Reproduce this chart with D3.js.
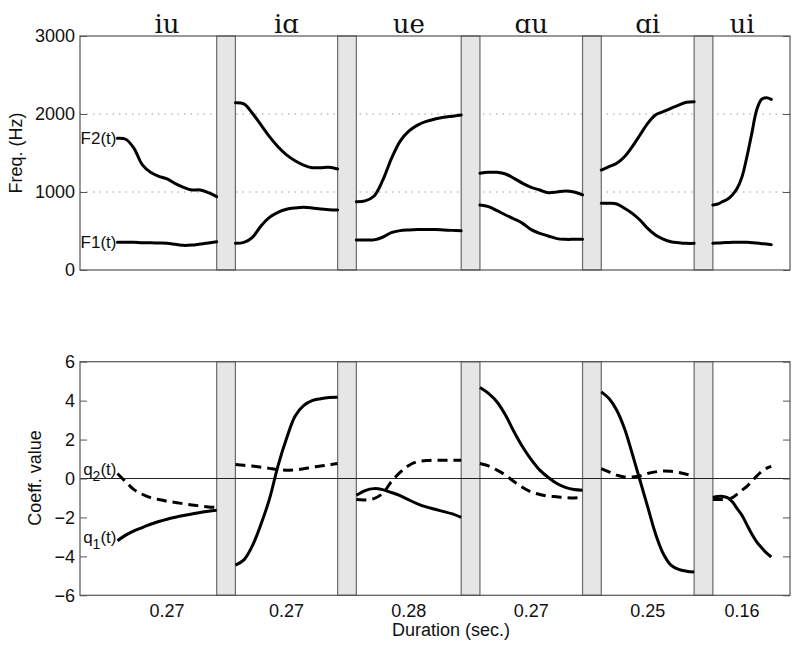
<!DOCTYPE html>
<html><head><meta charset="utf-8">
<script src="https://cdn.jsdelivr.net/npm/d3@7"></script>
<style>body{margin:0;background:#fff}</style>
</head><body>
<svg id="c" width="800" height="651"></svg>
<script>
// ---- data ----
const segmentLabels = ["iu", "iɑ", "ue", "ɑu", "ɑi", "ui"];
const durationLabels = ["0.27", "0.27", "0.28", "0.27", "0.25", "0.16"];
const durations = [0.265, 0.273, 0.28, 0.274, 0.248, 0.156]; // seconds
const gapSec = 0.05, leadSec = 0.1, trailSec = 0.05;
const freqTicks = [0, 1000, 2000, 3000];
const freqGrid = [1000, 2000];
const coeffTicks = [-6, -4, -2, 0, 2, 4, 6];

// formant tracks (Hz), 13 equally spaced samples per segment
const f1 = [
  [355, 355, 355, 350, 350, 346, 342, 329, 316, 320, 333, 346, 363],
  [342, 355, 419, 564, 675, 739, 778, 795, 803, 795, 782, 774, 769],
  [385, 385, 386, 420, 480, 505, 513, 518, 520, 518, 513, 508, 504],
  [833, 812, 760, 705, 654, 598, 517, 470, 436, 402, 393, 393, 393],
  [855, 855, 846, 791, 726, 641, 534, 449, 397, 363, 350, 342, 342],
  [342, 345, 350, 352, 355, 356, 357, 355, 350, 345, 338, 333, 325]
];
const f2 = [
  [1688, 1676, 1560, 1350, 1252, 1201, 1167, 1107, 1060, 1026, 1026, 991, 940],
  [2145, 2130, 2010, 1860, 1710, 1580, 1475, 1400, 1345, 1312, 1312, 1316, 1295],
  [876, 886, 945, 1145, 1425, 1650, 1780, 1858, 1905, 1935, 1958, 1972, 1987],
  [1239, 1252, 1252, 1231, 1175, 1111, 1060, 1026, 991, 1000, 1013, 1000, 962],
  [1282, 1325, 1368, 1453, 1581, 1731, 1880, 1987, 2030, 2073, 2115, 2150, 2158],
  [833, 846, 876, 906, 962, 1047, 1197, 1453, 1752, 2051, 2188, 2209, 2188]
];
// coefficients
const q1 = [
  [-3.20, -2.91, -2.69, -2.52, -2.35, -2.21, -2.09, -1.99, -1.90, -1.82, -1.75, -1.68, -1.63],
  [-4.45, -4.18, -3.45, -2.35, -1.05, 0.65, 2.05, 3.20, 3.74, 4.00, 4.10, 4.16, 4.17],
  [-0.86, -0.62, -0.52, -0.57, -0.72, -0.88, -1.10, -1.30, -1.46, -1.58, -1.70, -1.82, -2.00],
  [4.67, 4.37, 3.93, 3.25, 2.39, 1.62, 0.97, 0.43, 0.05, -0.26, -0.46, -0.57, -0.60],
  [4.45, 4.11, 3.51, 2.57, 1.28, -0.09, -1.46, -2.83, -3.85, -4.45, -4.67, -4.76, -4.80],
  [-0.98, -0.93, -0.92, -0.98, -1.20, -1.55, -1.90, -2.38, -2.85, -3.25, -3.55, -3.82, -4.03]
];
const q2 = [
  [0.26, -0.17, -0.57, -0.81, -0.98, -1.08, -1.17, -1.23, -1.30, -1.36, -1.41, -1.46, -1.49],
  [0.72, 0.68, 0.64, 0.58, 0.52, 0.46, 0.43, 0.44, 0.50, 0.58, 0.64, 0.70, 0.77],
  [-1.08, -1.10, -1.03, -0.77, -0.17, 0.31, 0.67, 0.87, 0.92, 0.94, 0.94, 0.94, 0.94],
  [0.77, 0.65, 0.43, 0.17, -0.17, -0.46, -0.69, -0.82, -0.91, -0.94, -0.98, -1.00, -0.98],
  [0.51, 0.34, 0.17, 0.08, 0.08, 0.13, 0.26, 0.34, 0.39, 0.37, 0.31, 0.22, 0.18],
  [-1.08, -1.08, -1.08, -1.06, -0.98, -0.80, -0.60, -0.40, -0.15, 0.12, 0.35, 0.52, 0.62]
];

// ---- layout ----
const svg = d3.select("#c");
const sans = "'Liberation Sans', Arial, Helvetica, sans-serif";
const L = 80, R = 790;
const starts = [];
let acc = 0;
durations.forEach((d, i) => { starts.push(acc); acc += d + gapSec; });
const totalEnd = starts[starts.length - 1] + durations[durations.length - 1];
const x = d3.scaleLinear().domain([-leadSec, totalEnd + trailSec]).range([L, R]);

const yTop = d3.scaleLinear().domain([0, 3000]).range([270, 36]);
const yBot = d3.scaleLinear().domain([-6, 6]).range([595.3, 361.7]);

function toPts(vals, i) {
  const n = vals.length;
  return vals.map((v, k) => [starts[i] + durations[i] * k / (n - 1), v]);
}

function panel(y, yticks, opts) {
  const g = svg.append("g");
  const [y0, y1] = y.range();
  // gridlines
  if (opts.grid) {
    opts.grid.forEach(v => {
      g.append("line").attr("x1", L).attr("x2", R).attr("y1", y(v)).attr("y2", y(v))
        .attr("stroke", "#9a9a9a").attr("stroke-width", 1).attr("stroke-dasharray", "1.5,5");
    });
  }
  // bands between segments
  for (let i = 0; i < durations.length - 1; i++) {
    const a = x(starts[i] + durations[i]), b = x(starts[i + 1]);
    g.append("rect").attr("x", a).attr("y", y1).attr("width", b - a).attr("height", y0 - y1)
      .attr("fill", "#e6e6e6").attr("stroke", "#6a6a6a").attr("stroke-width", 1.2);
  }
  if (opts.zero) {
    g.append("line").attr("x1", L).attr("x2", R).attr("y1", y(0)).attr("y2", y(0))
      .attr("stroke", "#222").attr("stroke-width", 1);
  }
  // axes
  const left = g.append("g").attr("transform", `translate(${L},0)`)
    .call(d3.axisLeft(y).tickValues(yticks).tickSize(-7).tickPadding(5).tickFormat(d3.format("d")));
  const right = g.append("g").attr("transform", `translate(${R},0)`)
    .call(d3.axisRight(y).tickValues(yticks).tickSize(-7).tickFormat(""));
  [left, right].forEach(a => {
    a.select(".domain").remove();
    a.selectAll(".tick line").attr("stroke", "#555");
    a.selectAll("text").attr("font-family", sans).attr("font-size", 18).attr("fill", "#111");
  });
  // box
  g.append("rect").attr("x", L).attr("y", y1).attr("width", R - L).attr("height", y0 - y1)
    .attr("fill", "none").attr("stroke", "#555").attr("stroke-width", 1.2);
  return g;
}

const gTop = panel(yTop, freqTicks, { grid: freqGrid });
const gBot = panel(yBot, coeffTicks, { zero: true });

const lineTop = d3.line().x(d => x(d[0])).y(d => yTop(d[1])).curve(d3.curveCatmullRom.alpha(0.5));
const lineBot = d3.line().x(d => x(d[0])).y(d => yBot(d[1])).curve(d3.curveCatmullRom.alpha(0.5));

[f1, f2].forEach(series => series.forEach((vals, i) => {
  gTop.append("path").attr("d", lineTop(toPts(vals, i))).attr("fill", "none")
    .attr("stroke", "#000").attr("stroke-width", 3).attr("stroke-linecap", "round");
}));
q1.forEach((vals, i) => {
  gBot.append("path").attr("d", lineBot(toPts(vals, i))).attr("fill", "none")
    .attr("stroke", "#000").attr("stroke-width", 3).attr("stroke-linecap", "butt");
});
q2.forEach((vals, i) => {
  gBot.append("path").attr("d", lineBot(toPts(vals, i))).attr("fill", "none")
    .attr("stroke", "#000").attr("stroke-width", 3).attr("stroke-dasharray", "10,6");
});

// segment titles
segmentLabels.forEach((t, i) => {
  svg.append("text").attr("x", x(starts[i] + durations[i] / 2)).attr("y", 33)
    .attr("text-anchor", "middle").attr("font-family", "'DejaVu Serif', serif")
    .attr("font-size", 26).attr("fill", "#111").text(t);
});
// duration tick labels
durationLabels.forEach((t, i) => {
  svg.append("text").attr("x", x(starts[i] + durations[i] / 2)).attr("y", 617)
    .attr("text-anchor", "middle").attr("font-family", sans)
    .attr("font-size", 18).attr("fill", "#111").text(t);
});

// axis titles
svg.append("text").attr("transform", "translate(22,153) rotate(-90)").attr("text-anchor", "middle")
  .attr("font-family", sans).attr("font-size", 18).attr("fill", "#111").text("Freq. (Hz)");
svg.append("text").attr("transform", "translate(41,478) rotate(-90)").attr("text-anchor", "middle")
  .attr("font-family", sans).attr("font-size", 18).attr("fill", "#111").text("Coeff. value");
svg.append("text").attr("x", 451).attr("y", 636).attr("text-anchor", "middle")
  .attr("font-family", sans).attr("font-size", 18).attr("fill", "#111").text("Duration (sec.)");

// curve labels
const lx = x(0) - 1;
svg.append("text").attr("x", lx).attr("y", yTop(f2[0][0]) + 6).attr("text-anchor", "end")
  .attr("font-family", sans).attr("font-size", 17).attr("fill", "#111").text("F2(t)");
svg.append("text").attr("x", lx).attr("y", yTop(f1[0][0]) + 6).attr("text-anchor", "end")
  .attr("font-family", sans).attr("font-size", 17).attr("fill", "#111").text("F1(t)");
function qLabel(sub, val) {
  const t = svg.append("text").attr("x", lx).attr("y", yBot(val) + 2).attr("text-anchor", "end")
    .attr("font-family", sans).attr("font-size", 17).attr("fill", "#111");
  t.append("tspan").text("q");
  t.append("tspan").attr("dy", 6).attr("font-size", 14).text(sub);
  t.append("tspan").attr("dy", -6).text("(t)");
}
qLabel("2", q2[0][0]);
qLabel("1", q1[0][0]);
</script>
</body></html>
